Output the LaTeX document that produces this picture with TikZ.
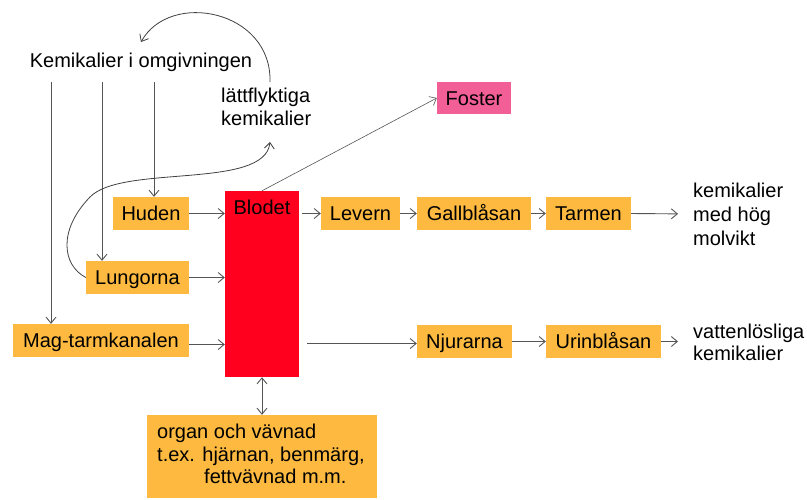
\documentclass[tikz,border=0pt]{standalone}
\usepackage{fontspec}
\setmainfont{Liberation Sans}
\usetikzlibrary{arrows.meta,calc}
\definecolor{boxorange}{RGB}{253,185,64}
\definecolor{bloodred}{RGB}{255,0,30}
\definecolor{fosterpink}{RGB}{242,94,150}
\definecolor{linegray}{RGB}{85,85,85}
\tikzset{
  organ/.style={fill=boxorange, draw=none, inner sep=0pt, minimum height=33pt,
    text height=14.5pt, text depth=0pt, font=\fontsize{20}{24}\selectfont},
  plain/.style={inner sep=0pt, font=\fontsize{20}{23}\selectfont, align=left},
  flow/.style={draw=linegray, line width=0.9pt, -{Straight Barb[length=6pt,width=10pt]}},
  thinflow/.style={draw=linegray, line width=0.6pt, -{Straight Barb[length=6pt,width=10pt]}},
  curveflow/.style={draw=black!75, line width=0.8pt, -{Straight Barb[length=6pt,width=10pt]}},
}
\begin{document}
\begin{tikzpicture}[x=1pt,y=-1pt]
\useasboundingbox (0,0) rectangle (807,499);

% sources and volatile loop
\node[plain, anchor=base] (kem) at (141,67) {Kemikalier i omgivningen};
\node[plain, anchor=north west, font=\fontsize{20}{23}\selectfont] (latt) at (221,88) {lättflyktiga\\kemikalier};

% entry organs
\node[organ, minimum width=76pt]  (huden) at (151,213.5) {Huden};
\node[organ, minimum width=103pt] (lung)  at (137.5,277.5) {Lungorna};
\node[organ, minimum width=176pt] (mag)   at (101,340.5) {Mag-tarmkanalen};

% blood
\node[fill=bloodred, draw=none, minimum width=74pt, minimum height=186pt, inner sep=0pt] (blod) at (262,284) {};
\node[plain, anchor=base] (blodtext) at (262,214) {Blodet};

% elimination routes
\node[organ, minimum width=79pt]  (lever) at (360.5,213.5) {Levern};
\node[organ, minimum width=114pt] (gall)  at (474,213.5) {Gallblåsan};
\node[organ, minimum width=85pt]  (tarm)  at (588.5,213.5) {Tarmen};
\node[plain, anchor=west, font=\fontsize{20}{24}\selectfont] (hog) at (693,214) {kemikalier\\med hög\\molvikt};

\node[organ, minimum width=95pt]  (njur) at (464.5,341.5) {Njurarna};
\node[organ, minimum width=115pt] (urin) at (603.5,341.5) {Urinblåsan};
\node[plain, anchor=west, font=\fontsize{20}{22}\selectfont] (vatten) at (693,342) {vattenlösliga\\kemikalier};

\node[organ, fill=fosterpink, minimum width=74pt, minimum height=32pt] (foster) at (474,98) {Foster};

% storage tissues
\node[fill=boxorange, minimum width=230pt, minimum height=83pt, inner sep=0pt] (vav) at (262,456.5) {};
\node[plain, anchor=north west, font=\fontsize{20}{22.5}\selectfont] (vavtext) at (157,424)
  {organ och vävnad\\t.ex. hjärnan, benmärg,\\\hspace*{47pt}fettvävnad m.m.};

% exposure routes
\coordinate (k1) at (51,82);
\coordinate (k2) at (102,82);
\coordinate (k3) at (154,82);
\draw[flow] (k1) -- (k1 |- mag.north);
\draw[flow] (k2) -- (k2 |- lung.north);
\draw[flow] (k3) -- (k3 |- huden.north);

% volatile chemicals leave through the lungs and return
\coordinate (lattTop) at (270,82);
\coordinate (kemIn) at (141,42);
\draw[curveflow] (lattTop) .. controls (272,10) and (170,-10) .. (kemIn);
\coordinate (lattBot) at (270,142);
\coordinate (bend) at (90,197);
\draw[curveflow] (lung.west) .. controls (62,265) and (58,230) .. (bend)
  .. controls (122,164) and (265,190) .. (lattBot);

% uptake into blood
\draw[flow] (huden.east) -- (huden.east -| blod.west);
\draw[flow] (lung.east) -- (lung.east -| blod.west);
\draw[flow] ($(mag.east)+(0,4)$) -- ($(mag.east -| blod.west)+(0,4)$);

% distribution
\draw[thinflow] (blod.north) -- (foster.west);
\draw[flow, shorten <=3pt] (lever.west -| blod.east) -- (lever.west);
\draw[flow] (lever) -- (gall);
\draw[flow] (gall) -- (tarm);
\draw[flow, shorten >=15pt] (tarm.east) -- (hog.west);
\draw[flow, shorten <=8pt] ($(njur.west -| blod.east)+(0,2)$) -- ($(njur.west)+(0,2)$);
\draw[flow] (njur) -- (urin);
\draw[flow, shorten >=15pt] (urin.east) -- (urin.east -| vatten.west);
\draw[draw=linegray, line width=0.9pt, {Straight Barb[length=6pt,width=10pt]}-{Straight Barb[length=6pt,width=10pt]}]
  (blod.south) -- (vav.north);
\end{tikzpicture}
\end{document}
